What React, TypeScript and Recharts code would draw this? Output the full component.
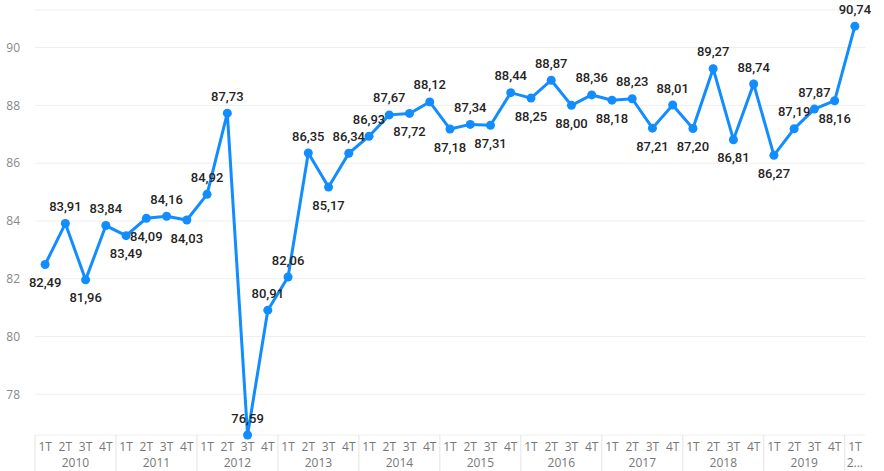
import { CartesianGrid, LabelList, Line, LineChart, XAxis, YAxis } from "recharts";

const years = ["2010", "2011", "2012", "2013", "2014", "2015", "2016", "2017", "2018", "2019", "2020"];
const quarters = ["1T", "2T", "3T", "4T"];
const values = [
  82.49, 83.91, 81.96, 83.84,
  83.49, 84.09, 84.16, 84.03,
  84.92, 87.73, 76.59, 80.91,
  82.06, 86.35, 85.17, 86.34,
  86.93, 87.67, 87.72, 88.12,
  87.18, 87.34, 87.31, 88.44,
  88.25, 88.87, 88.0, 88.36,
  88.18, 88.23, 87.21, 88.01,
  87.2, 89.27, 86.81, 88.74,
  86.27, 87.19, 87.87, 88.16,
  90.74,
];
// where each data label sits: t = above the point, b = below
const labelSide = [
  "b", "t", "b", "t",
  "b", "b", "t", "b",
  "t", "t", "t", "t",
  "t", "t", "b", "t",
  "t", "t", "b", "t",
  "b", "t", "b", "t",
  "b", "t", "b", "t",
  "b", "t", "b", "t",
  "b", "t", "b", "t",
  "b", "t", "t", "b",
  "t",
];
const yTicks = [78, 80, 82, 84, 86, 88, 90];

const data = values.map((v, i) => ({
  key: String(i),
  year: years[Math.floor(i / 4)],
  q: quarters[i % 4],
  value: v,
}));

const W = 884;
const H = 471;
const LEFT = 35;
const RIGHT = 19;
const BAND = (W - LEFT - RIGHT) / data.length;
const BLUE = "#118DFF";
const AXIS_FONT = "'Open Sans', 'Noto Sans', sans-serif";

function fmt(v: number) {
  return v.toFixed(2).replace(".", ",");
}

function QuarterTick(props: any) {
  const { x, y, index } = props;
  const d = data[index];
  if (!d) return null;
  const lastYear = d.year === years[years.length - 1];
  return (
    <g>
      <text x={x} y={y + 16} textAnchor="middle" fontSize={12} fill="#777" fontFamily={AXIS_FONT}>
        {d.q}
      </text>
      {d.q === "1T" && (
        <line x1={x - BAND / 2} x2={x - BAND / 2} y1={y} y2={H} stroke="#e4e4e4" strokeWidth={1} />
      )}
      {lastYear ? (
        <text x={x} y={y + 32} textAnchor="middle" fontSize={12} fill="#777" fontFamily={AXIS_FONT}>
          2...
        </text>
      ) : (
        d.q === "2T" && (
          <text x={x + BAND / 2} y={y + 32} textAnchor="middle" fontSize={12} fill="#777" fontFamily={AXIS_FONT}>
            {d.year}
          </text>
        )
      )}
    </g>
  );
}

function PointLabel(props: any) {
  const { x, y, value, index } = props;
  const up = labelSide[index] === "t";
  return (
    <text
      x={x}
      y={up ? y - 17 : y + 18}
      dy="0.35em"
      textAnchor="middle"
      fontSize={13}
      fontWeight={500}
      fill="#252423"
      fontFamily="Roboto, sans-serif"
    >
      {fmt(value)}
    </text>
  );
}

export default function App() {
  return (
    <div style={{ position: "absolute", left: 0, top: 0, width: W, height: H, background: "#fff" }}>
      <LineChart width={W} height={H} data={data} margin={{ top: 10, right: RIGHT, bottom: 0, left: 0 }}>
        <CartesianGrid horizontal vertical={false} stroke="#eeeeee" />
        <XAxis
          dataKey="key"
          interval={0}
          height={36}
          padding={{ left: BAND / 2, right: BAND / 2 }}
          axisLine={false}
          tickLine={false}
          tickSize={0}
          tickMargin={0}
          tick={<QuarterTick />}
        />
        <YAxis
          width={LEFT}
          domain={[76.59, 91.3]}
          ticks={yTicks}
          axisLine={false}
          tickLine={false}
          tickSize={0}
          tickMargin={15}
          tick={{ fontSize: 12, fill: "#888", fontFamily: AXIS_FONT }}
        />
        <Line
          type="linear"
          dataKey="value"
          stroke={BLUE}
          strokeWidth={3}
          dot={{ r: 4.5, fill: BLUE, stroke: BLUE, strokeWidth: 0 }}
          activeDot={false}
          isAnimationActive={false}
        >
          <LabelList dataKey="value" content={<PointLabel />} />
        </Line>
      </LineChart>
    </div>
  );
}
